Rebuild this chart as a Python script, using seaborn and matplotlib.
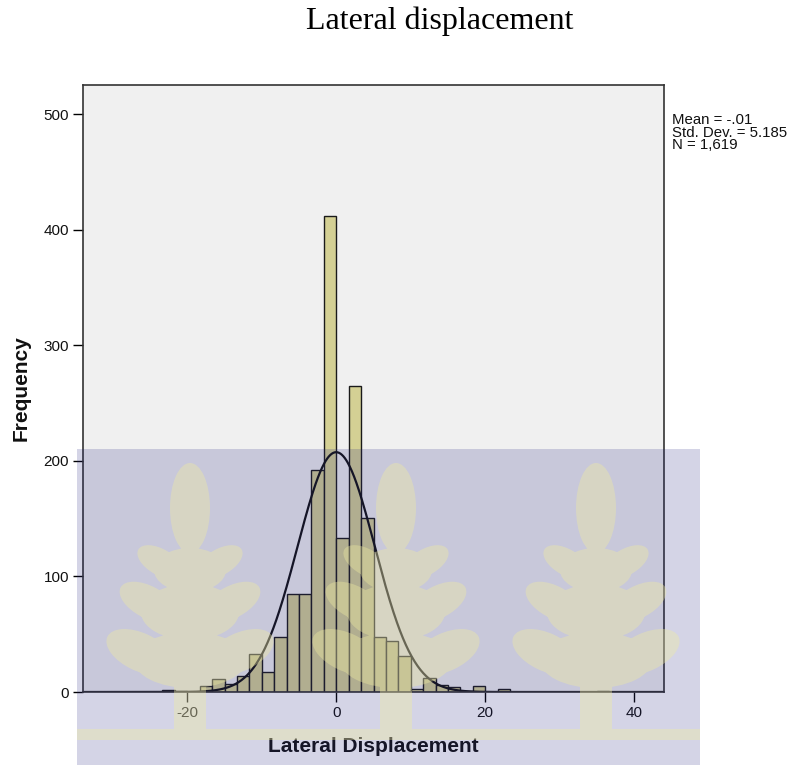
import numpy as np
import pandas as pd
import matplotlib
matplotlib.use("Agg")
import matplotlib.pyplot as plt
import seaborn as sns
from matplotlib.patches import Rectangle, PathPatch
from matplotlib.path import Path
from matplotlib.transforms import Affine2D, IdentityTransform

# ---- data ----
bin_width = 5 / 3
bin_left_edges = [k * bin_width for k in range(-14, 22)]
counts = [2, 1, 0, 5, 11, 7, 14, 33, 17, 48, 85, 85, 192, 412,
          133, 265, 151, 48, 44, 31, 3, 12, 6, 4, 1, 5, 0, 3,
          0, 0, 0, 0, 0, 0, 0, 1]
mean_val = -0.01
sd_val = 5.185
n_val = 1619
x_ticks = [-20, 0, 20, 40]
y_ticks = [0, 100, 200, 300, 400, 500]

df = pd.DataFrame({"center": [e + bin_width / 2 for e in bin_left_edges],
                   "count": counts})
edges = bin_left_edges + [bin_left_edges[-1] + bin_width]

sns.set_theme(style="white")
plt.rcParams["font.family"] = ["Liberation Sans", "DejaVu Sans"]

W, H = 796, 765
fig = plt.figure(figsize=(W / 100, H / 100), dpi=100)
ax = fig.add_axes([83 / W, 1 - 692 / H, (664 - 83) / W, (692 - 85) / H])
ax.set_facecolor("#F0F0F0")

sns.histplot(data=df, x="center", weights="count", bins=edges, ax=ax,
             color="#D4D094", alpha=1.0, edgecolor="#1a1a1a", linewidth=1.0)

xs = np.linspace(-34, 44, 800)
ys = n_val * bin_width / (sd_val * np.sqrt(2 * np.pi)) * np.exp(-0.5 * ((xs - mean_val) / sd_val) ** 2)
ax.plot(xs, ys, color="#111111", linewidth=1.6)

ax.set_xlim(-34, 44)
ax.set_ylim(0, 525.5)
ax.set_xticks(x_ticks)
ax.set_yticks(y_ticks)
ax.set_xticklabels([str(t) for t in x_ticks])
ax.set_yticklabels([str(t) for t in y_ticks])
ax.tick_params(axis="both", direction="out", length=7, width=1.0, color="black",
               labelsize=11, labelcolor="#111111", pad=3, bottom=True, left=True)
for s in ax.spines.values():
    s.set_color("#333333")
    s.set_linewidth(1.2)

ax.set_xlabel("Lateral Displacement", fontsize=15, fontweight="bold", labelpad=12, color="#111111")
ax.set_ylabel("Frequency", fontsize=15, fontweight="bold", labelpad=9, color="#111111")

fig.text(672 / W, 1 - 113 / H,
         "Mean = -.01\nStd. Dev. = 5.185\nN = 1,619",
         fontsize=10.8, va="top", ha="left", linespacing=0.88, color="#111111")

fig.text(440 / W, 1 - 21 / H, "Lateral displacement",
         family=["Liberation Serif", "DejaVu Serif"], fontsize=23,
         ha="center", va="center", color="black")

# ---- translucent watermark (decorative overlay seen in the reference) ----
fig.patches.append(Rectangle((77 / W, 0), (700 - 77) / W, 1 - 449 / H,
                             transform=fig.transFigure,
                             facecolor=(40 / 255, 40 / 255, 130 / 255),
                             alpha=0.2, edgecolor="none", zorder=10))

def ell(cx, cy, w, h, ang=0):
    return Path.unit_circle().transformed(
        Affine2D().scale(w / 2, h / 2).rotate_deg(ang).translate(cx, cy))

def rect(x0, y0, x1, y1):
    return Path.unit_rectangle().transformed(
        Affine2D().scale(x1 - x0, y1 - y0).translate(x0, y0))

parts = []
for cx in [190, 396, 596]:
    parts.append(ell(cx, 508, 40, 90))
    # tier 1
    parts.append(ell(cx, 570, 72, 44))
    parts.append(ell(cx - 30, 562, 50, 26, 30))
    parts.append(ell(cx + 30, 562, 50, 26, -30))
    # tier 2
    parts.append(ell(cx, 612, 98, 56))
    parts.append(ell(cx - 42, 602, 62, 32, 28))
    parts.append(ell(cx + 42, 602, 62, 32, -28))
    # tier 3
    parts.append(ell(cx, 660, 112, 56))
    parts.append(ell(cx - 50, 652, 72, 38, 25))
    parts.append(ell(cx + 50, 652, 72, 38, -25))
    parts.append(rect(cx - 16, 682, cx + 16, 736))
parts.append(rect(77, 729, 700, 740))
leaf_path = Path.make_compound_path(*parts)
to_display = Affine2D().scale(1, -1).translate(0, H)
leaf_path = leaf_path.transformed(to_display)
fig.patches.append(PathPatch(leaf_path, transform=IdentityTransform(),
                             facecolor=(240 / 255, 236 / 255, 160 / 255),
                             alpha=0.38, edgecolor="none", zorder=11))

fig.savefig("out.png", dpi=100)
